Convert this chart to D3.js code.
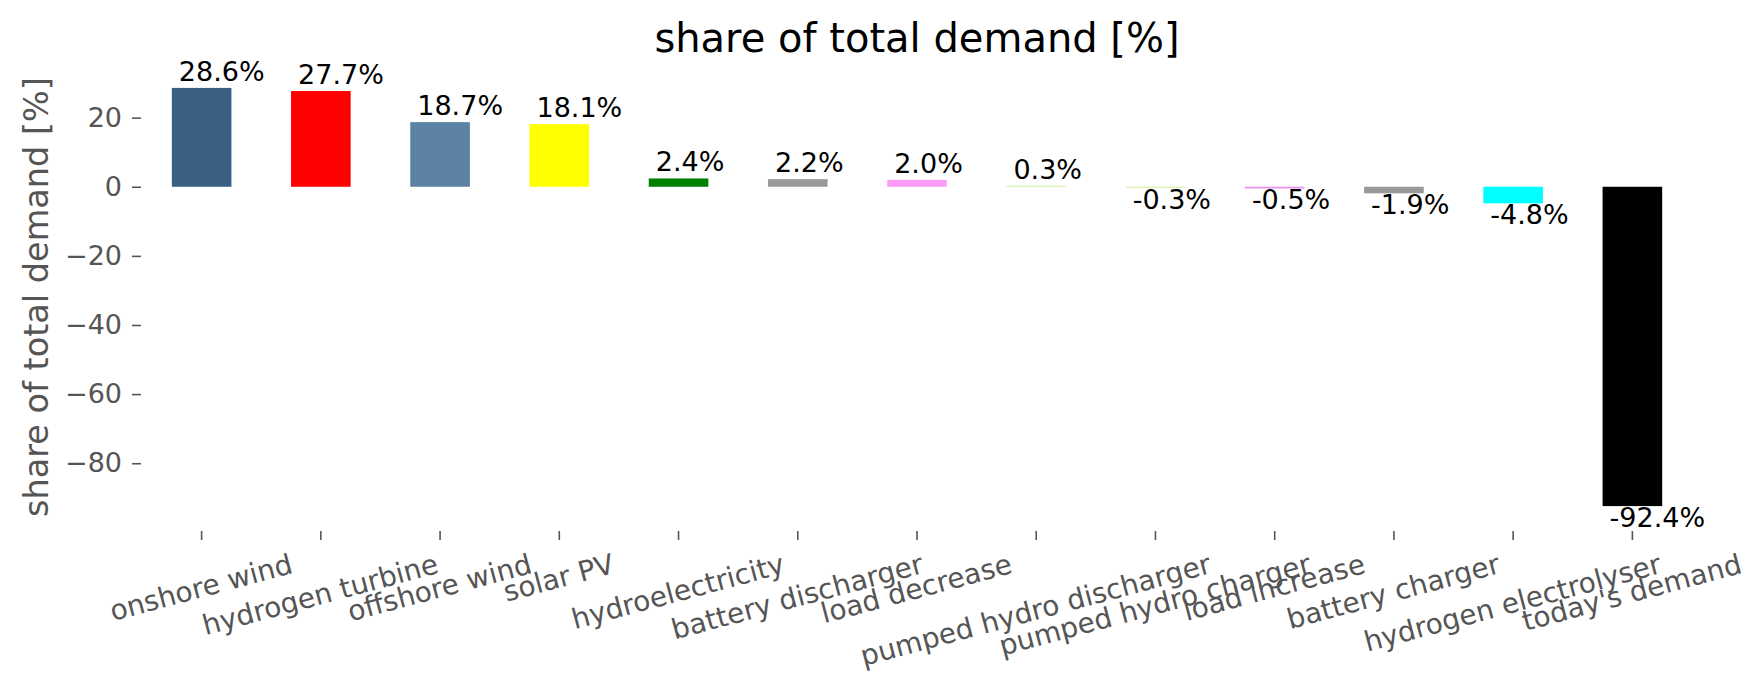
<!DOCTYPE html>
<html>
<head>
<meta charset="utf-8">
<script src="https://d3js.org/d3.v7.min.js"></script>
<style>
  body { margin: 0; background: #fff; }
  svg text { font-family: "DejaVu Sans", sans-serif; }
</style>
</head>
<body>
<svg id="chart" width="1764" height="689"></svg>
<script>
(function() {

    var categories = ["onshore wind", "hydrogen turbine", "offshore wind", "solar PV",
        "hydroelectricity", "battery discharger", "load decrease", "pumped hydro discharger",
        "pumped hydro charger", "load increase", "battery charger", "hydrogen electrolyser",
        "today's demand"];
    var shares = [28.6, 27.7, 18.7, 18.1, 2.4, 2.2, 2.0, 0.3, -0.3, -0.5, -1.9, -4.8, -92.4];
    var barColors = ["#3b6182", "#ff0000", "#5c83a5", "#ffff00", "#008000", "#999999",
        "#ff9cf7", "#d2f2a0", "#d2f2a0", "#ef90ef", "#999999", "#00ffff", "#000000"];
    var yTicks = [20, 0, -20, -40, -60, -80];

    var svg = d3.select("#chart"),
        left = 142,
        right = 1692,
        top = 67,
        bottom = 527;

    var data = categories.map(function(c, i) {
        return { name: c, value: shares[i], color: barColors[i] };
    });

    var x = d3.scaleBand()
        .domain(categories)
        .range([left, right])
        .paddingInner(0.5)
        .paddingOuter(0.25);

    // matplotlib style 5% margins round the data
    var lo = d3.min(shares), hi = d3.max(shares), m = (hi - lo) * 0.05;
    var y = d3.scaleLinear()
        .domain([lo - m, hi + m])
        .range([bottom, top]);

    svg.append("text")
        .attr("x", (left + right) / 2)
        .attr("y", 52)
        .attr("text-anchor", "middle")
        .attr("font-size", "40px")
        .attr("fill", "#000")
        .text("share of total demand [%]");

    svg.append("text")
        .attr("transform", "translate(48," + (top + bottom) / 2 + ") rotate(-90)")
        .attr("text-anchor", "middle")
        .attr("font-size", "33.5px")
        .attr("fill", "#555")
        .text("share of total demand [%]");

    // y axis
    var yAxis = svg.append("g")
        .attr("transform", "translate(141,0)")
        .call(d3.axisLeft(y).tickValues(yTicks).tickSize(9).tickPadding(10)
            .tickFormat(function(d) { return d < 0 ? "\u2212" + Math.abs(d) : d; }));
    yAxis.select(".domain").remove();
    yAxis.selectAll("line").attr("stroke", "#555").attr("stroke-width", 1.6);
    yAxis.selectAll("text")
        .attr("font-size", "27px")
        .attr("font-family", "DejaVu Sans")
        .attr("fill", "#555");

    // x axis
    var xAxis = svg.append("g")
        .attr("transform", "translate(0,531)")
        .call(d3.axisBottom(x).tickSize(9).tickFormat(""));
    xAxis.select(".domain").remove();
    xAxis.selectAll("line").attr("stroke", "#555").attr("stroke-width", 1.6);

    var fs = 28, angle = 15, rad = angle * Math.PI / 180, labelTop = 552;
    var xl = svg.append("g").selectAll(".xlabel")
        .data(categories)
        .enter().append("text")
        .attr("class", "xlabel")
        .attr("font-size", fs + "px")
        .attr("fill", "#555")
        .attr("text-anchor", "middle")
        .attr("dy", (0.26 * fs) + "px")
        .text(function(d) { return d; });

    xl.attr("transform", function(d) {
        var L = this.getComputedTextLength();
        var cy = labelTop + (L * Math.sin(rad) + fs * Math.cos(rad)) / 2;
        var cx = x(d) + x.bandwidth() / 2;
        return "translate(" + cx + "," + cy + ") rotate(" + (-angle) + ")";
    });

    // bars
    svg.append("g").selectAll(".bar")
        .data(data)
        .enter().append("rect")
        .attr("class", "bar")
        .attr("x", function(d) { return x(d.name); })
        .attr("width", x.bandwidth())
        .attr("y", function(d) { return y(Math.max(0, d.value)); })
        .attr("height", function(d) { return Math.abs(y(d.value) - y(0)); })
        .attr("fill", function(d) { return d.color; });

    svg.append("g").selectAll(".val")
        .data(data)
        .enter().append("text")
        .attr("class", "val")
        .attr("x", function(d) { return x(d.name) + 7; })
        .attr("y", function(d) { return d.value >= 0 ? y(d.value) - 7 : y(d.value) + 21; })
        .attr("font-size", "27px")
        .attr("fill", "#000")
        .text(function(d) { return d.value.toFixed(1) + "%"; });

})();
</script>
</body>
</html>
